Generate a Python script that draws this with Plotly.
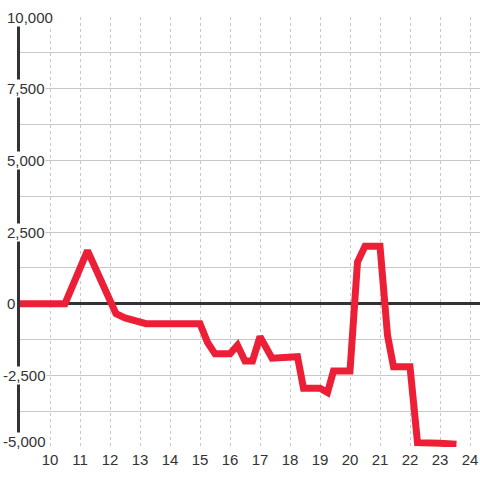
import plotly.graph_objects as go

# data
hours = [9, 10.5, 11.25, 12.2, 12.5, 13.2, 15.0, 15.25, 15.5, 16.0, 16.25, 16.5, 16.75,
         17.0, 17.4, 18.0, 18.25, 18.45, 19.0, 19.25, 19.45, 20.0, 20.25, 20.5, 21.0,
         21.25, 21.45, 22.0, 22.25, 23.0, 23.55]
values = [0, 0, 1850, -350, -500, -700, -700, -1350, -1750, -1750, -1450, -2000, -2000,
          -1150, -1900, -1900, -1850, -2950, -2950, -3100, -2350, -2350, 1450, 2000, 2000,
          -1100, -2200, -2200, -4850, -4870, -4900]
x_ticks = list(range(10, 25))
y_tick_vals = [10000, 7500, 5000, 2500, 0, -2500, -5000]
y_tick_text = ["10,000", "7,500", "5,000", "2,500", "0", "-2,500", "-5,000"]

fig = go.Figure()
fig.add_trace(go.Scatter(x=hours, y=values, mode="lines",
                         line=dict(color="#ed1f36", width=7), hoverinfo="skip"))

L, R, T, B = 20, 0, 17, 33
W = 480 - L - R
ymin = min(y_tick_vals)
for v, t in zip(y_tick_vals, y_tick_text):
    px = 2 if t.startswith("-") else 6
    fig.add_annotation(x=(px - L) / W, xref="paper", y=v, yref="y", text=t,
                       showarrow=False, xanchor="left", yanchor="middle",
                       yshift=6 if v == ymin else 0,
                       bgcolor="white", borderpad=0,
                       font=dict(family="Liberation Sans, Arial, sans-serif", size=15, color="#333"))

fig.update_layout(
    width=480, height=480,
    margin=dict(l=L, r=R, t=T, b=B),
    paper_bgcolor="white", plot_bgcolor="white",
    showlegend=False,
    font=dict(family="Liberation Sans, Arial, sans-serif", size=15, color="#333"),
    xaxis=dict(range=[9, 9 + W / 30], tickvals=x_ticks, ticks="", showgrid=True,
               gridcolor="#c8c8c8", griddash="3px,3px", gridwidth=1, zeroline=False,
               showline=False, tickfont=dict(size=15, color="#333"), ticklabelstandoff=2),
    yaxis=dict(range=[-5000, 10000], dtick=1250, tick0=0, showticklabels=False, ticks="",
               showgrid=True, gridcolor="#c8c8c8", gridwidth=1,
               zeroline=True, zerolinecolor="#333", zerolinewidth=3,
               showline=True, linecolor="#333", linewidth=3, layer="below traces"),
)
fig.write_html("out.html", post_script="document.body.style.margin='0';",
               config={"displayModeBar": False})
